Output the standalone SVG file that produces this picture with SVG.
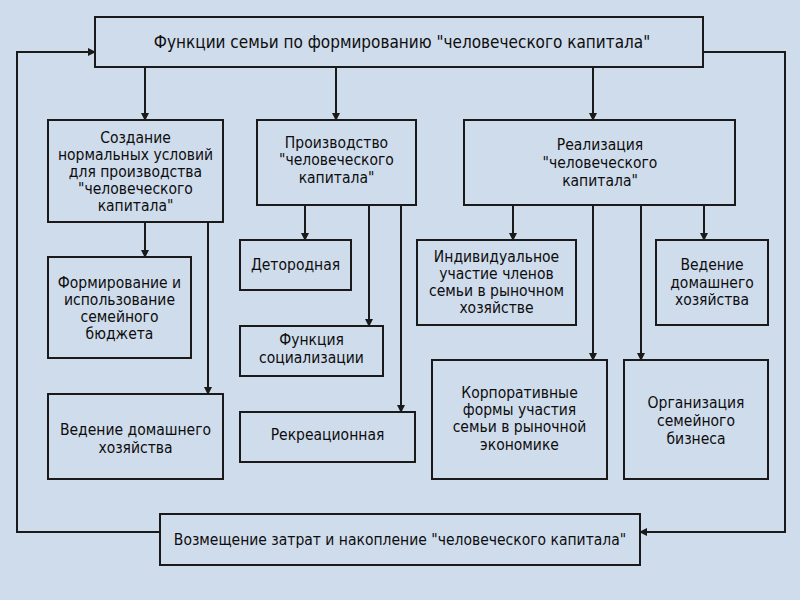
<svg xmlns="http://www.w3.org/2000/svg" width="800" height="600" viewBox="0 0 800 600">
<defs>
<style>
.bg{fill:#cfdcec}
.box{fill:#cfdcec;stroke:#1a1a1a;stroke-width:2}
.t{font-family:"DejaVu Sans","Liberation Sans",sans-serif;font-stretch:condensed;font-size:15.5px;fill:#0d0d0d;text-anchor:middle}
.h{font-size:17px}
.c{fill:none;stroke:#1a1a1a;stroke-width:2}
</style>
<marker id="ah" markerWidth="8" markerHeight="8" refX="7" refY="4" orient="auto" markerUnits="userSpaceOnUse">
<path d="M0,0 L8,4 L0,8 Z" fill="#1a1a1a"/>
</marker>
</defs>
<rect class="bg" x="0" y="0" width="800" height="600"/>
<g id="connectors">
<path class="c" d="M145,67 V120" marker-end="url(#ah)"/>
<path class="c" d="M336,67 V120" marker-end="url(#ah)"/>
<path class="c" d="M593,67 V120" marker-end="url(#ah)"/>
<path class="c" d="M160,532 H17 V52 H95" marker-end="url(#ah)"/>
<path class="c" d="M703,52 H785 V532 H640" marker-end="url(#ah)"/>
<path class="c" d="M145,222 V257" marker-end="url(#ah)"/>
<path class="c" d="M208,222 V394" marker-end="url(#ah)"/>
<path class="c" d="M305,205 V240" marker-end="url(#ah)"/>
<path class="c" d="M369,205 V326" marker-end="url(#ah)"/>
<path class="c" d="M401,205 V412" marker-end="url(#ah)"/>
<path class="c" d="M513,205 V240" marker-end="url(#ah)"/>
<path class="c" d="M593,205 V360" marker-end="url(#ah)"/>
<path class="c" d="M641,205 V360" marker-end="url(#ah)"/>
<path class="c" d="M704,205 V240" marker-end="url(#ah)"/>
</g>
<g id="top">
<rect class="box" x="95" y="17" width="608" height="50"/>
<text class="t h" x="402" y="48">Функции семьи по формированию "человеческого капитала"</text>
</g>
<g id="n1">
<rect class="box" x="48" y="120" width="175" height="102"/>
<text class="t" x="135.5" y="143">Создание</text>
<text class="t" x="135.5" y="160">нормальных условий</text>
<text class="t" x="135.5" y="177">для производства</text>
<text class="t" x="135.5" y="194">"человеческого</text>
<text class="t" x="135.5" y="211">капитала"</text>
</g>
<g id="n2">
<rect class="box" x="257" y="120" width="159" height="85"/>
<text class="t" x="336.5" y="148">Производство</text>
<text class="t" x="336.5" y="165">"человеческого</text>
<text class="t" x="336.5" y="183">капитала"</text>
</g>
<g id="n3">
<rect class="box" x="464" y="120" width="271" height="85"/>
<text class="t" x="600" y="150">Реализация</text>
<text class="t" x="600" y="168">"человеческого</text>
<text class="t" x="600" y="186">капитала"</text>
</g>
<g id="n4">
<rect class="box" x="48" y="257" width="143" height="101"/>
<text class="t" x="119.5" y="288">Формирование и</text>
<text class="t" x="119.5" y="305">использование</text>
<text class="t" x="119.5" y="322">семейного</text>
<text class="t" x="119.5" y="339">бюджета</text>
</g>
<g id="n5">
<rect class="box" x="48" y="394" width="175" height="85"/>
<text class="t" x="135.5" y="435">Ведение домашнего</text>
<text class="t" x="135.5" y="453">хозяйства</text>
</g>
<g id="n6">
<rect class="box" x="240" y="240" width="111" height="50"/>
<text class="t" x="295.5" y="270">Детородная</text>
</g>
<g id="n7">
<rect class="box" x="240" y="326" width="143" height="50"/>
<text class="t" x="311.5" y="345">Функция</text>
<text class="t" x="311.5" y="363">социализации</text>
</g>
<g id="n8">
<rect class="box" x="240" y="412" width="175" height="50"/>
<text class="t" x="327.5" y="440">Рекреационная</text>
</g>
<g id="n9">
<rect class="box" x="417" y="240" width="159" height="85"/>
<text class="t" x="496.5" y="262">Индивидуальное</text>
<text class="t" x="496.5" y="279">участие членов</text>
<text class="t" x="496.5" y="296">семьи в рыночном</text>
<text class="t" x="496.5" y="313">хозяйстве</text>
</g>
<g id="n10">
<rect class="box" x="656" y="240" width="112" height="85"/>
<text class="t" x="712" y="270">Ведение</text>
<text class="t" x="712" y="288">домашнего</text>
<text class="t" x="712" y="305">хозяйства</text>
</g>
<g id="n11">
<rect class="box" x="432" y="360" width="175" height="119"/>
<text class="t" x="519.5" y="398">Корпоративные</text>
<text class="t" x="519.5" y="415">формы участия</text>
<text class="t" x="519.5" y="432">семьи в рыночной</text>
<text class="t" x="519.5" y="450">экономике</text>
</g>
<g id="n12">
<rect class="box" x="624" y="360" width="144" height="119"/>
<text class="t" x="696" y="408">Организация</text>
<text class="t" x="696" y="426">семейного</text>
<text class="t" x="696" y="444">бизнеса</text>
</g>
<g id="bottom">
<rect class="box" x="160" y="514" width="480" height="51"/>
<text class="t" x="400" y="545">Возмещение затрат и накопление "человеческого капитала"</text>
</g>
</svg>
